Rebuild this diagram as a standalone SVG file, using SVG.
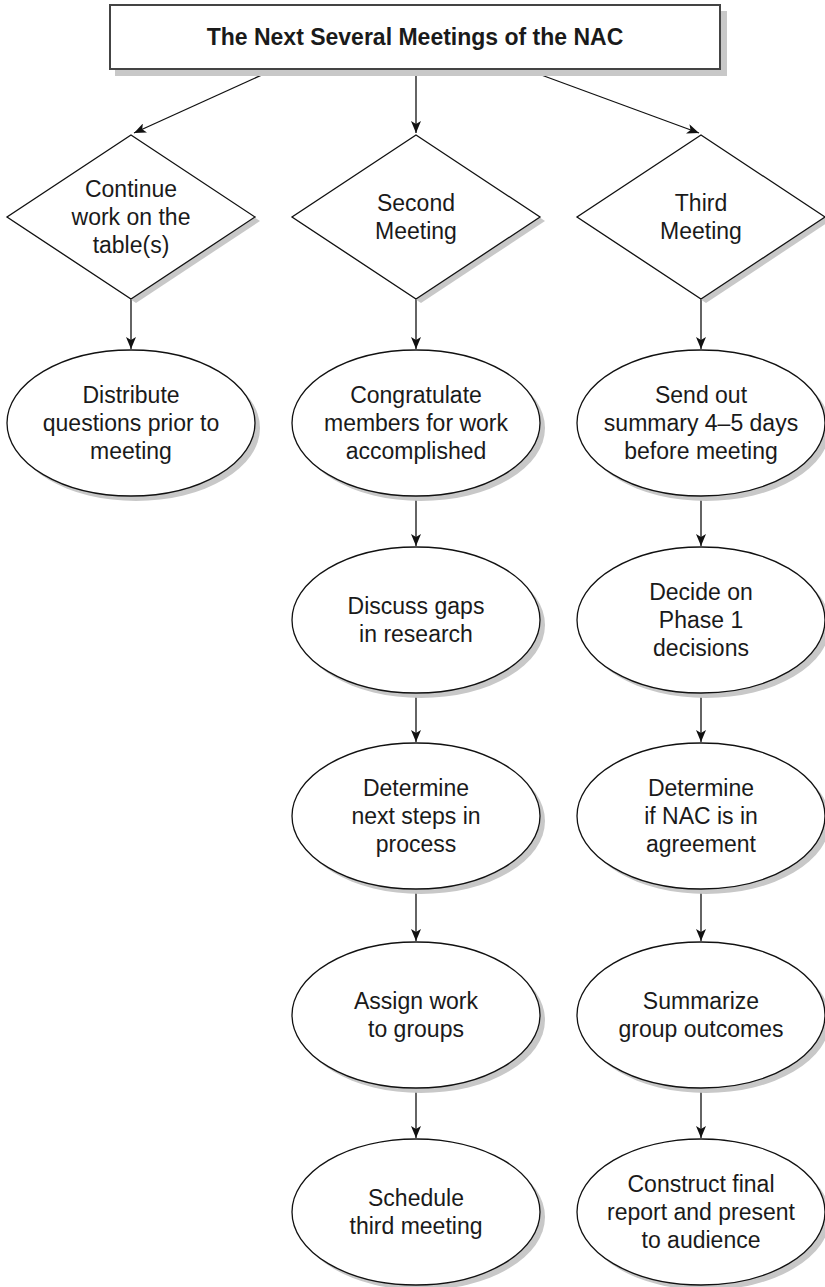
<svg xmlns="http://www.w3.org/2000/svg" width="825" height="1287" viewBox="0 0 825 1287">
<style>
.sh{fill:#c8c8c8;stroke:none}
.nd{fill:#fff;stroke:#111;stroke-width:1.3}
.tb{fill:#fff;stroke:#444;stroke-width:2}
.t{font-family:"Liberation Sans",Arial,sans-serif;font-size:23px;fill:#1a1a1a;text-anchor:middle}
.tt{font-family:"Liberation Sans",Arial,sans-serif;font-size:23px;font-weight:bold;fill:#1a1a1a;text-anchor:middle}
.c{stroke:#111;stroke-width:1.3;fill:none;marker-end:url(#ah)}
</style>
<defs>
<marker id="ah" viewBox="0 0 12 10" refX="12" refY="5" markerWidth="12" markerHeight="10" markerUnits="userSpaceOnUse" orient="auto">
<path d="M0,0 L12,5 L0,10 L3,5 Z" fill="#111"/>
</marker>
</defs>
<rect width="825" height="1287" fill="#fff"/>

<g id="connectors">
<line class="c" x1="275" y1="69" x2="134" y2="133"/>
<line class="c" x1="416" y1="69" x2="416" y2="133"/>
<line class="c" x1="525" y1="69" x2="699" y2="133"/>
<line class="c" x1="131" y1="299" x2="131" y2="349"/>
<line class="c" x1="416" y1="299" x2="416" y2="349"/>
<line class="c" x1="701" y1="299" x2="701" y2="349"/>
<line class="c" x1="416" y1="496" x2="416" y2="546"/>
<line class="c" x1="416" y1="693" x2="416" y2="742"/>
<line class="c" x1="416" y1="889" x2="416" y2="941"/>
<line class="c" x1="416" y1="1088" x2="416" y2="1138"/>
<line class="c" x1="701" y1="496" x2="701" y2="546"/>
<line class="c" x1="701" y1="693" x2="701" y2="742"/>
<line class="c" x1="701" y1="889" x2="701" y2="941"/>
<line class="c" x1="701" y1="1088" x2="701" y2="1138"/>
</g>

<g id="title">
<rect class="sh" x="115" y="11" width="612" height="65"/>
<rect class="tb" x="110" y="5" width="610" height="64"/>
<text class="tt" x="415" y="45">The Next Several Meetings of the NAC</text>
</g>

<g id="d-continue">
<polygon class="sh" points="136,139 260,221 136,303 12,221"/>
<polygon class="nd" points="131,135 255,217 131,299 7,217"/>
<text class="t" x="131" y="197">Continue</text>
<text class="t" x="131" y="225">work on the</text>
<text class="t" x="131" y="253">table(s)</text>
</g>

<g id="d-second">
<polygon class="sh" points="421,139 545,221 421,303 297,221"/>
<polygon class="nd" points="416,135 540,217 416,299 292,217"/>
<text class="t" x="416" y="211">Second</text>
<text class="t" x="416" y="239">Meeting</text>
</g>

<g id="d-third">
<polygon class="sh" points="706,139 830,221 706,303 582,221"/>
<polygon class="nd" points="701,135 825,217 701,299 577,217"/>
<text class="t" x="701" y="211">Third</text>
<text class="t" x="701" y="239">Meeting</text>
</g>

<g id="e-distribute">
<ellipse class="sh" cx="136" cy="428" rx="124" ry="73"/>
<ellipse class="nd" cx="131" cy="423" rx="124" ry="73"/>
<text class="t" x="131" y="403">Distribute</text>
<text class="t" x="131" y="431">questions prior to</text>
<text class="t" x="131" y="459">meeting</text>
</g>

<g id="e-congratulate">
<ellipse class="sh" cx="421" cy="428" rx="124" ry="73"/>
<ellipse class="nd" cx="416" cy="423" rx="124" ry="73"/>
<text class="t" x="416" y="403">Congratulate</text>
<text class="t" x="416" y="431">members for work</text>
<text class="t" x="416" y="459">accomplished</text>
</g>

<g id="e-discuss">
<ellipse class="sh" cx="421" cy="625" rx="124" ry="73"/>
<ellipse class="nd" cx="416" cy="620" rx="124" ry="73"/>
<text class="t" x="416" y="614">Discuss gaps</text>
<text class="t" x="416" y="642">in research</text>
</g>

<g id="e-determine-next">
<ellipse class="sh" cx="421" cy="821" rx="124" ry="73"/>
<ellipse class="nd" cx="416" cy="816" rx="124" ry="73"/>
<text class="t" x="416" y="796">Determine</text>
<text class="t" x="416" y="824">next steps in</text>
<text class="t" x="416" y="852">process</text>
</g>

<g id="e-assign">
<ellipse class="sh" cx="421" cy="1020" rx="124" ry="73"/>
<ellipse class="nd" cx="416" cy="1015" rx="124" ry="73"/>
<text class="t" x="416" y="1009">Assign work</text>
<text class="t" x="416" y="1037">to groups</text>
</g>

<g id="e-schedule">
<ellipse class="sh" cx="421" cy="1217" rx="124" ry="73"/>
<ellipse class="nd" cx="416" cy="1212" rx="124" ry="73"/>
<text class="t" x="416" y="1206">Schedule</text>
<text class="t" x="416" y="1234">third meeting</text>
</g>

<g id="e-send">
<ellipse class="sh" cx="706" cy="428" rx="124" ry="73"/>
<ellipse class="nd" cx="701" cy="423" rx="124" ry="73"/>
<text class="t" x="701" y="403">Send out</text>
<text class="t" x="701" y="431">summary 4–5 days</text>
<text class="t" x="701" y="459">before meeting</text>
</g>

<g id="e-decide">
<ellipse class="sh" cx="706" cy="625" rx="124" ry="73"/>
<ellipse class="nd" cx="701" cy="620" rx="124" ry="73"/>
<text class="t" x="701" y="600">Decide on</text>
<text class="t" x="701" y="628">Phase 1</text>
<text class="t" x="701" y="656">decisions</text>
</g>

<g id="e-determine-nac">
<ellipse class="sh" cx="706" cy="821" rx="124" ry="73"/>
<ellipse class="nd" cx="701" cy="816" rx="124" ry="73"/>
<text class="t" x="701" y="796">Determine</text>
<text class="t" x="701" y="824">if NAC is in</text>
<text class="t" x="701" y="852">agreement</text>
</g>

<g id="e-summarize">
<ellipse class="sh" cx="706" cy="1020" rx="124" ry="73"/>
<ellipse class="nd" cx="701" cy="1015" rx="124" ry="73"/>
<text class="t" x="701" y="1009">Summarize</text>
<text class="t" x="701" y="1037">group outcomes</text>
</g>

<g id="e-construct">
<ellipse class="sh" cx="706" cy="1217" rx="124" ry="73"/>
<ellipse class="nd" cx="701" cy="1212" rx="124" ry="73"/>
<text class="t" x="701" y="1192">Construct final</text>
<text class="t" x="701" y="1220">report and present</text>
<text class="t" x="701" y="1248">to audience</text>
</g>
</svg>
